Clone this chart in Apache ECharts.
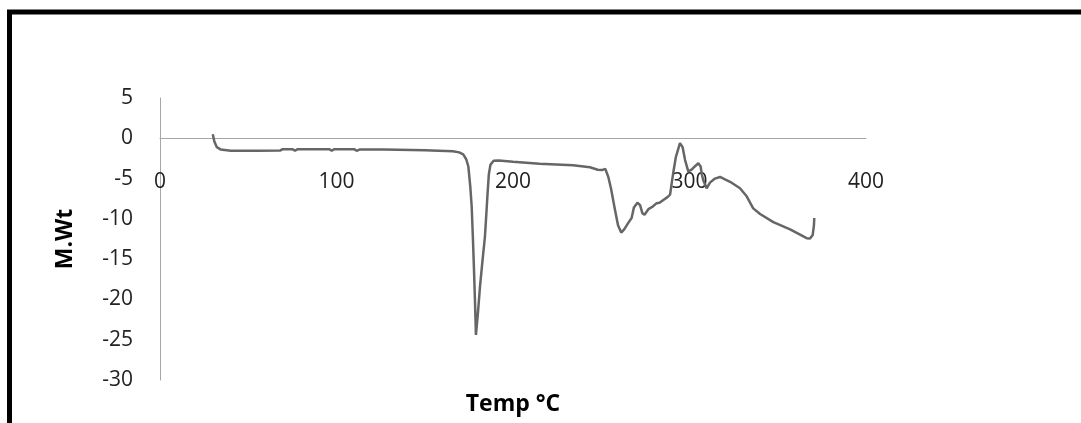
<!DOCTYPE html>
<html>
<head>
<meta charset="utf-8">
<script src="https://cdn.jsdelivr.net/npm/echarts@6/dist/echarts.min.js"></script>
<style>
  html, body { margin: 0; padding: 0; background: #fff; }
  #main { width: 1081px; height: 423px; }
</style>
</head>
<body>
<div id="main"></div>
<script>
// temperature (x) and M.Wt (y)
var temp = [29.9, 30.8, 32.2, 34.5, 40, 55, 68, 69.5, 75, 76.5, 78, 96, 97.3, 98.6, 110, 111.4, 113, 127, 128, 150,
  166, 169.5, 171.8, 173.5, 174.7, 175.8, 176.6, 177.3, 177.9, 178.5, 179, 180.2, 181.3, 182.8, 184.1, 185, 185.6,
  186.3, 187.2, 189, 192, 200, 215, 234, 243.6, 248, 250.5, 252.3, 254, 255.5, 257.8, 259.5, 261.3, 263, 265.3,
  267.2, 268.5, 270.5, 272, 273.3, 274.5, 276.7, 279, 281.4, 283, 285.2, 287.5, 289, 289.9, 291, 292.3, 294.6,
  296.1, 297.5, 299.3, 301.2, 303, 305, 306.3, 307, 307.8, 309.7, 311.6, 314.4, 317.3, 320.1, 323, 328.6, 332.4,
  336.1, 340, 347.5, 357, 366.4, 368.3, 369.8, 370.5, 370.7];
var mwt = [0.5, -0.4, -1.1, -1.4, -1.55, -1.55, -1.53, -1.35, -1.35, -1.55, -1.35, -1.35, -1.55, -1.35, -1.35, -1.55, -1.4, -1.4, -1.5, -1.5,
  -1.6, -1.75, -2.0, -2.6, -3.5, -6, -8.5, -12.5, -16.3, -20.5, -24.4, -21.5, -18.4, -15, -12.2, -9, -6.8,
  -4.5, -3.3, -2.8, -2.75, -2.9, -3.15, -3.35, -3.6, -3.9, -3.95, -3.8, -4.8, -6.2, -8.9, -10.8, -11.7, -11.3, -10.5,
  -9.9, -8.6, -8.0, -8.3, -9.3, -9.5, -8.8, -8.5, -8.05, -8.0, -7.65, -7.3, -7.0, -5.6, -4.0, -2.3, -0.6,
  -1.1, -2.7, -4.1, -3.9, -3.5, -3.1, -3.5, -4.5, -5.2, -6.2, -5.5, -5.0, -4.8, -5.1, -5.4, -6.2, -7.2,
  -8.7, -9.4, -10.4, -11.3, -12.4, -12.45, -12.0, -10.8, -9.9];

var data = [];
for (var i = 0; i < temp.length; i++) {
  data.push([temp[i], mwt[i]]);
}

var myChart = echarts.init(document.getElementById('main'));

// grid: 98..380 px for 5..-30, so y=0 sits 282.3*30/35 px above the bottom edge
var zeroOffset = -282 * 30 / 35;

var option = {
  animation: false,
  textStyle: { fontFamily: 'Open Sans' },
  grid: { left: 160, right: 215, top: 98, bottom: 43, containLabel: false, outerBoundsMode: 'none' },
  graphic: [{
    type: 'rect',
    silent: true,
    shape: { x: 9.5, y: 12, width: 1200, height: 600 },
    style: { fill: 'none', stroke: '#000', lineWidth: 5 }
  }],
  xAxis: {
    type: 'value',
    min: 0,
    max: 400,
    interval: 100,
    offset: zeroOffset,
    name: 'Temp °C',
    nameLocation: 'middle',
    nameGap: 255,
    nameTextStyle: { fontSize: 23, fontWeight: 'bold', color: '#000', fontFamily: 'Open Sans' },
    axisLine: { onZero: false, lineStyle: { color: '#a6a6a6', width: 1 } },
    axisTick: { show: false },
    axisLabel: { margin: 33, fontSize: 21, color: '#222' },
    splitLine: { show: false }
  },
  yAxis: {
    type: 'value',
    min: -30,
    max: 5,
    interval: 5,
    name: 'M.Wt',
    nameLocation: 'middle',
    nameGap: 83,
    nameTextStyle: { fontSize: 23, fontWeight: 'bold', color: '#000', fontFamily: 'Open Sans' },
    axisLine: { show: true, onZero: false, lineStyle: { color: '#a6a6a6', width: 1 } },
    axisTick: { show: false },
    axisLabel: { margin: 27, fontSize: 21, color: '#222' },
    splitLine: { show: false }
  },
  series: [{
    type: 'line',
    symbol: 'none',
    smooth: false,
    lineStyle: { color: '#666666', width: 2.5 },
    data: data
  }]
};

myChart.setOption(option, true);
</script>
</body>
</html>
